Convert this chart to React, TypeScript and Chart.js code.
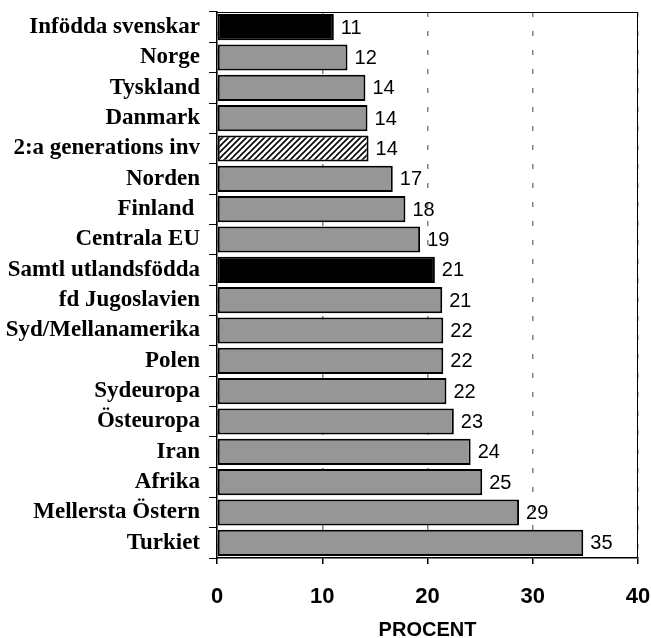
import React, { useEffect, useRef } from "react";
import { Chart, registerables } from "chart.js";

Chart.register(...registerables);

const categories = [
  "Infödda svenskar",
  "Norge",
  "Tyskland",
  "Danmark",
  "2:a generations inv",
  "Norden",
  "Finland ",
  "Centrala EU",
  "Samtl utlandsfödda",
  "fd Jugoslavien",
  "Syd/Mellanamerika",
  "Polen",
  "Sydeuropa",
  "Östeuropa",
  "Iran",
  "Afrika",
  "Mellersta Östern",
  "Turkiet",
];

const values = [
  11.1, 12.4, 14.1, 14.3, 14.4, 16.7, 17.9, 19.3, 20.7, 21.4, 21.5, 21.5, 21.8,
  22.5, 24.1, 25.2, 28.7, 34.8,
];

const xTicks = [0, 10, 20, 30, 40];
const xTitle = "PROCENT";

const blackIdx = [0, 8];
const hatchIdx = [4];

function makeHatch(): CanvasPattern | string {
  const c = document.createElement("canvas");
  const s = 6;
  c.width = s;
  c.height = s;
  const g = c.getContext("2d");
  if (!g) return "#fff";
  g.fillStyle = "#fff";
  g.fillRect(0, 0, s, s);
  g.strokeStyle = "#000";
  g.lineWidth = 1.6;
  g.beginPath();
  g.moveTo(-1, s + 1);
  g.lineTo(s + 1, -1);
  g.moveTo(-1, 1);
  g.lineTo(1, -1);
  g.moveTo(s - 1, s + 1);
  g.lineTo(s + 1, s - 1);
  g.stroke();
  const p = g.createPattern(c, "repeat");
  return p || "#fff";
}

export default function App() {
  const ref = useRef<HTMLCanvasElement>(null);

  useEffect(() => {
    if (!ref.current) return;
    const hatch = makeHatch();
    const bg = values.map((_, i) =>
      blackIdx.includes(i) ? "#000000" : hatchIdx.includes(i) ? hatch : "#969696"
    );

    const boxPlugin = {
      id: "boxAndLabels",
      afterDatasetsDraw(chart: any) {
        const { ctx, chartArea } = chart;
        ctx.save();
        ctx.strokeStyle = "#000";
        ctx.lineWidth = 1;
        ctx.beginPath();
        ctx.moveTo(chartArea.left, chartArea.top + 0.5);
        ctx.lineTo(chartArea.right - 0.5, chartArea.top + 0.5);
        ctx.lineTo(chartArea.right - 0.5, chartArea.bottom);
        ctx.stroke();
        const meta = chart.getDatasetMeta(0);
        ctx.fillStyle = "#000";
        ctx.font = "20px 'Liberation Sans', Arial, sans-serif";
        ctx.textAlign = "left";
        ctx.textBaseline = "middle";
        meta.data.forEach((bar: any, i: number) => {
          ctx.fillText(String(Math.round(values[i])), bar.x + 7, bar.y + 1);
        });
        ctx.restore();
      },
    };

    const chart = new Chart(ref.current, {
      type: "bar",
      data: {
        labels: categories,
        datasets: [
          {
            data: values,
            backgroundColor: bg as any,
            borderColor: "#000",
            borderWidth: 2,
            borderSkipped: false,
            barPercentage: 0.86,
            categoryPercentage: 1,
          },
        ],
      },
      options: {
        indexAxis: "y",
        responsive: false,
        animation: false,
        layout: { padding: { top: 12, right: 13, left: 0, bottom: 0 } },
        plugins: {
          legend: { display: false },
          tooltip: { enabled: false },
          title: { display: false },
        },
        scales: {
          x: {
            min: 0,
            max: 40,
            afterFit: (s: any) => {
              s.height = 80;
              s.paddingLeft = 0;
              s.paddingRight = 0;
            },
            afterBuildTicks: (s: any) => {
              s.ticks = xTicks.map((v) => ({ value: v }));
            },
            ticks: {
              color: "#000",
              font: { family: "'Liberation Sans', Arial, sans-serif", size: 22, weight: "bold" },
              padding: 20,
              maxRotation: 0,
            },
            grid: {
              color: "#808080",
              lineWidth: 1.5,
              tickLength: 6,
              tickColor: "#000",
              tickWidth: 1.5,
            },
            border: { display: true, color: "#000", width: 1.5, dash: [5, 14] },
            title: {
              display: true,
              text: xTitle,
              color: "#000",
              font: { family: "'Liberation Sans', Arial, sans-serif", size: 20, weight: "bold", lineHeight: 1 },
              padding: { top: 0, bottom: -2 },
            },
          },
          y: {
            afterFit: (s: any) => {
              s.width = 217;
              s.paddingTop = 0;
              s.paddingBottom = 0;
            },
            ticks: {
              color: "#000",
              font: { family: "'Liberation Serif', 'Times New Roman', serif", size: 23, weight: "bold" },
              padding: 9,
              autoSkip: false,
            },
            grid: {
              offset: true,
              drawOnChartArea: false,
              tickLength: 8,
              tickColor: "#000",
              tickWidth: 1,
            },
            border: { display: true, color: "#000", width: 1.5 },
          },
        },
      },
      plugins: [boxPlugin],
    });
    return () => chart.destroy();
  }, []);

  return (
    <canvas
      ref={ref}
      width={651}
      height={638}
      style={{ position: "absolute", left: 0, top: 0, width: 651, height: 638 }}
    />
  );
}
